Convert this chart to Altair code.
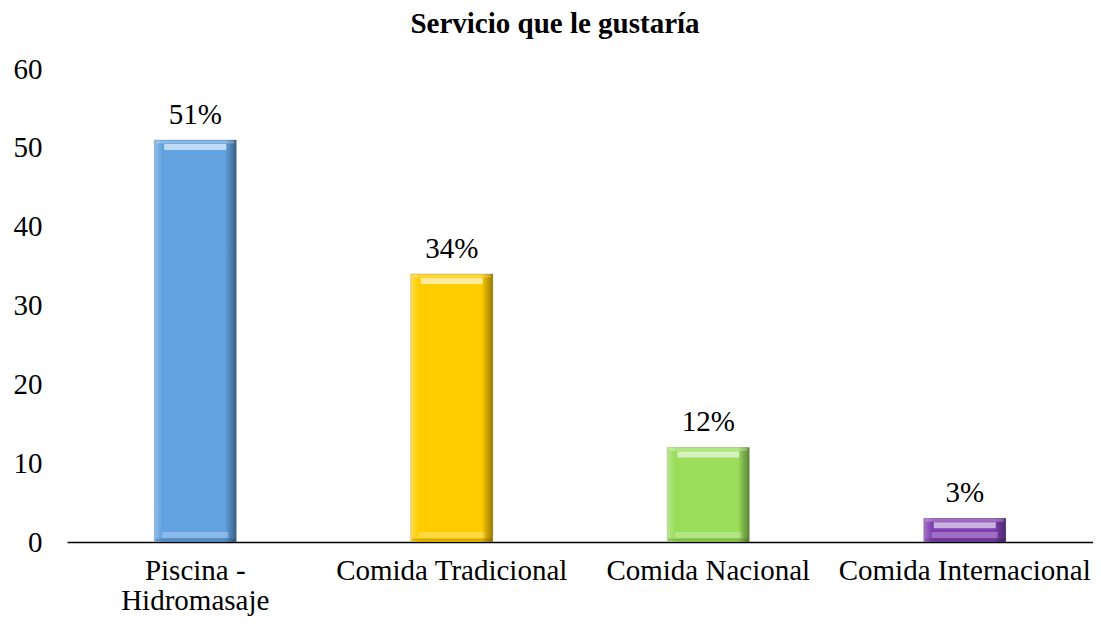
import altair as alt
import pandas as pd

categories = ["Piscina -\nHidromasaje", "Comida Tradicional", "Comida Nacional", "Comida Internacional"]
values = [51, 34, 12, 3]
labels = ["51%", "34%", "12%", "3%"]
colors = ["#62a2e0", "#ffcc00", "#99dd5a", "#7f3fb0"]
y_ticks = [0, 10, 20, 30, 40, 50, 60]

df = pd.DataFrame({"cat": categories, "value": values, "label": labels})

FONT = "Liberation Serif"

x = alt.X(
    "cat:N",
    sort=categories,
    scale=alt.Scale(paddingInner=0.68, paddingOuter=0.34),
    axis=alt.Axis(
        title=None, labelAngle=0, labelExpr="split(datum.label, '\\n')",
        labelFont=FONT, labelFontSize=29, labelColor="black", labelPadding=14,
        labelLineHeight=30, labelLimit=400, ticks=False,
        domainColor="black", domainWidth=1.5,
    ),
)
y = alt.Y(
    "value:Q",
    scale=alt.Scale(domain=[0, 60]),
    axis=alt.Axis(
        values=y_ticks, title=None, grid=False, domain=False, ticks=False,
        labelPadding=25, labelFont=FONT, labelFontSize=29, labelColor="black",
    ),
)

base = alt.Chart(df)

bars = base.mark_bar(stroke="#000000", strokeOpacity=0.15, strokeWidth=1).encode(
    x=x, y=y,
    color=alt.Color("cat:N", sort=categories, scale=alt.Scale(domain=categories, range=colors), legend=None),
)

shade = base.mark_bar(
    color=alt.Gradient(
        gradient="linear", x1=0, x2=1, y1=0, y2=0,
        stops=[
            alt.GradientStop(color="rgba(255,255,255,0.30)", offset=0),
            alt.GradientStop(color="rgba(255,255,255,0)", offset=0.1),
            alt.GradientStop(color="rgba(0,0,0,0)", offset=0.86),
            alt.GradientStop(color="rgba(0,0,0,0.40)", offset=1),
        ],
    )
).encode(x=x, y=y)

top_hl = base.mark_tick(color="white", opacity=0.6, thickness=6, size=62, yOffset=7).encode(x=x, y=y)
top_edge = base.mark_tick(color="white", opacity=0.25, thickness=3, size=78, yOffset=2).encode(x=x, y=y)
bottom_hl = base.mark_tick(color="white", opacity=0.25, thickness=6, size=66, yOffset=-7).encode(
    x=x, y=alt.datum(0)
)
bottom_dark = base.mark_tick(color="black", opacity=0.15, thickness=3, size=80, yOffset=-2).encode(
    x=x, y=alt.datum(0)
)

text = base.mark_text(
    font=FONT, fontSize=29, color="black", baseline="alphabetic", dy=-16
).encode(x=x, y=y, text="label:N")

chart = (
    alt.layer(bars, shade, bottom_hl, bottom_dark, top_hl, top_edge, text)
    .properties(
        width=1026,
        height=473,
        title=alt.TitleParams(
            "Servicio que le gustaría", font=FONT, fontSize=29, fontWeight="bold",
            color="black", anchor="middle", dx=-25, offset=16,
        ),
        autosize=alt.AutoSizeParams(type="none"),
        padding={"left": 59, "top": 61, "right": 0, "bottom": 80},
        background="white",
    )
    .configure_view(stroke=None)
)

chart.save("out.html", embed_options={"renderer": "svg", "actions": False})
